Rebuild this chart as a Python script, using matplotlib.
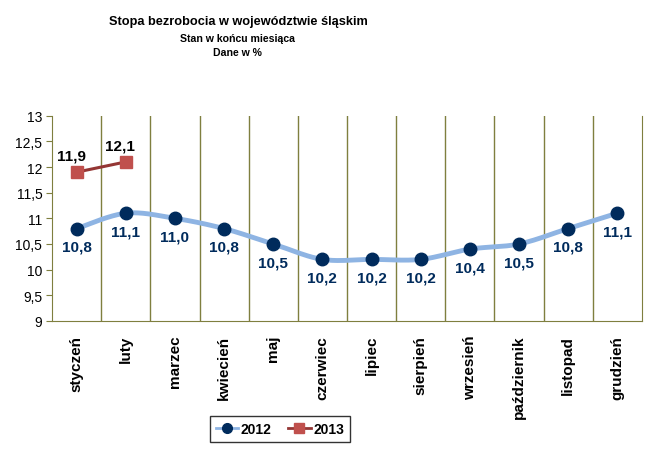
import matplotlib.pyplot as plt
import numpy as np

plt.rcParams['font.family'] = ['Liberation Sans', 'DejaVu Sans']

# =========================
# DATA
# =========================
months = ["styczeń", "luty", "marzec", "kwiecień", "maj", "czerwiec",
          "lipiec", "sierpień", "wrzesień", "październik", "listopad", "grudzień"]
rate_2012 = [10.8, 11.1, 11.0, 10.8, 10.5, 10.2, 10.2, 10.2, 10.4, 10.5, 10.8, 11.1]
rate_2013 = [11.9, 12.1]
y_ticks = [9, 9.5, 10, 10.5, 11, 11.5, 12, 12.5, 13]

NAVY = "#002B5C"
LIGHT_BLUE = "#8EB4E3"
RED_MARK = "#C0504D"
RED_LINE = "#943634"
GRID = "#7F7F3F"


def smooth(xs, ys, n=20):
    """Catmull-Rom style smoothing, similar to Excel's smoothed line"""
    xs = np.asarray(xs, float)
    ys = np.asarray(ys, float)
    px = np.concatenate([[xs[0]], xs, [xs[-1]]])
    py = np.concatenate([[ys[0]], ys, [ys[-1]]])
    out_x, out_y = [], []
    for i in range(1, len(px) - 2):
        t = np.linspace(0, 1, n, endpoint=False)
        for p, out in ((px, out_x), (py, out_y)):
            p0, p1, p2, p3 = p[i - 1], p[i], p[i + 1], p[i + 2]
            b1 = p1 + (p2 - p0) / 6
            b2 = p2 - (p3 - p1) / 6
            out.extend((1 - t) ** 3 * p1 + 3 * (1 - t) ** 2 * t * b1
                       + 3 * (1 - t) * t ** 2 * b2 + t ** 3 * p2)
    out_x.append(xs[-1])
    out_y.append(ys[-1])
    return out_x, out_y


fig = plt.figure(figsize=(6.59, 4.56), dpi=100, facecolor='white')
ax = fig.add_axes([0.079, 0.294, 0.895, 0.450])

x12 = np.arange(len(rate_2012))
x13 = np.arange(len(rate_2013))

sx, sy = smooth(x12, rate_2012)
ax.plot(sx, sy, color=LIGHT_BLUE, linewidth=3.5, solid_capstyle='round', zorder=2)
ax.plot(x12, rate_2012, linestyle='none', marker='o', markersize=9,
        color=NAVY, zorder=3)
ax.plot(x13, rate_2013, color=RED_LINE, linewidth=2.2, marker='s', markersize=8,
        markerfacecolor=RED_MARK, markeredgecolor=RED_MARK, zorder=3)

# Legend proxies
l1, = ax.plot([], [], color=LIGHT_BLUE, linewidth=2, marker='o', markersize=7,
              markerfacecolor=NAVY, markeredgecolor=NAVY)
l2, = ax.plot([], [], color=RED_LINE, linewidth=2, marker='s', markersize=7,
              markerfacecolor=RED_MARK, markeredgecolor=RED_MARK)

for x, v in zip(x12, rate_2012):
    ax.annotate(f"{v:.1f}".replace('.', ','), (x, v), xytext=(0, -8),
                textcoords='offset points', ha='center', va='top',
                fontsize=11, fontweight='bold', color=NAVY, zorder=4)
for x, v in zip(x13, rate_2013):
    ax.annotate(f"{v:.1f}".replace('.', ','), (x, v), xytext=(-4, 7),
                textcoords='offset points', ha='center', va='bottom',
                fontsize=11, fontweight='bold', color='black', zorder=4)

ax.set_xlim(-0.5, len(months) - 0.5)
ax.set_ylim(9, 13)
ax.set_yticks(y_ticks)
ax.set_yticklabels([f"{t:g}".replace('.', ',') for t in y_ticks], fontsize=10)

# vertical gridlines at category boundaries
for b in np.arange(0.5, len(months) - 0.5, 1):
    ax.axvline(b, color=GRID, linewidth=1, zorder=1)

ax.set_xticks(x12)
ax.set_xticklabels(months, rotation=90, fontsize=11, fontweight='bold',
                   va='top', ha='center')
ax.tick_params(axis='x', length=0, pad=10)
ax.tick_params(axis='y', length=4, direction='out', color=GRID, pad=3)

for side in ('top', 'left', 'right', 'bottom'):
    ax.spines[side].set_color(GRID)
ax.spines['top'].set_visible(False)

fig.text(0.361, 0.952, "Stopa bezrobocia w województwie śląskim",
         ha='center', va='center', fontsize=9.2, fontweight='bold')
fig.text(0.361, 0.915, "Stan w końcu miesiąca",
         ha='center', va='center', fontsize=7.6, fontweight='bold')
fig.text(0.361, 0.884, "Dane w %",
         ha='center', va='center', fontsize=7.6, fontweight='bold')

leg = fig.legend([l1, l2], ["2012", "2013"], loc='center',
                 bbox_to_anchor=(0.425, 0.057), ncol=2, frameon=True,
                 fancybox=False, edgecolor='black',
                 prop={'weight': 'bold', 'size': 10},
                 handlelength=1.6, columnspacing=1.2, handletextpad=0.2,
                 borderpad=0.4)
leg.get_frame().set_linewidth(1)

fig.savefig("out.png", dpi=100, facecolor='white')
